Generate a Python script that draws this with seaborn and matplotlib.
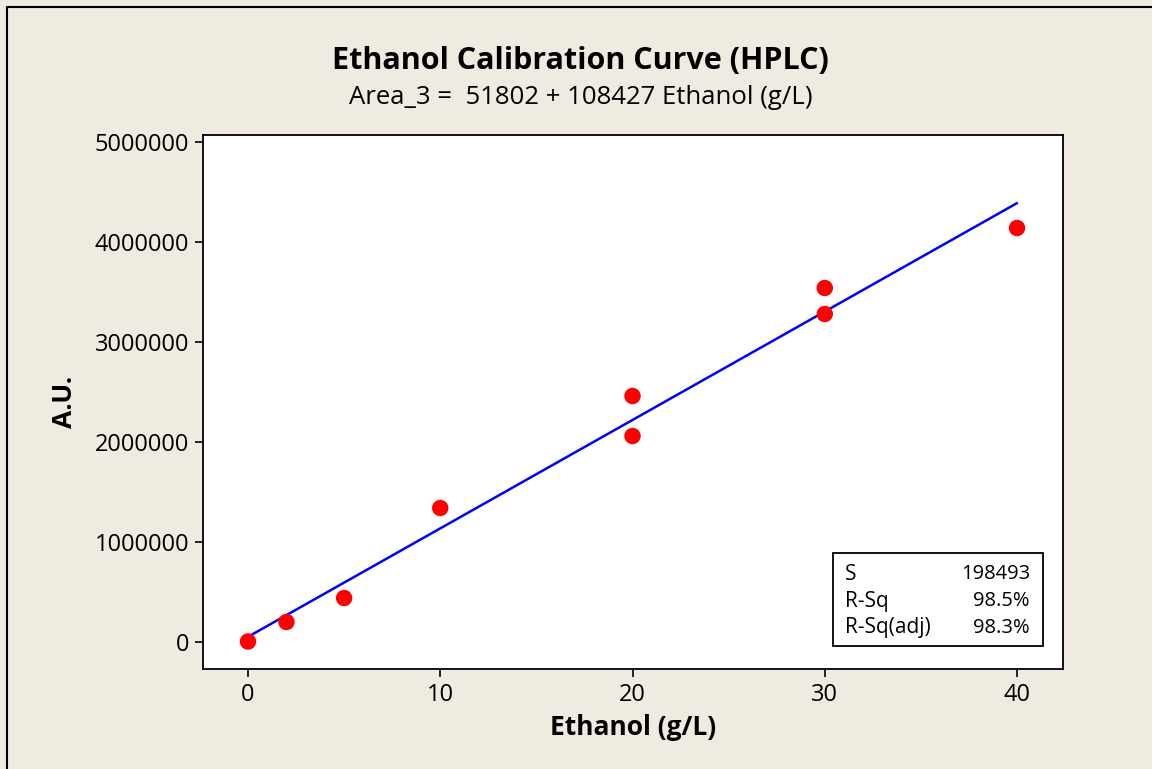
import pandas as pd
import seaborn as sns
import matplotlib.pyplot as plt
from matplotlib.patches import Rectangle
from matplotlib.lines import Line2D

# measured calibration points
ethanol = [0, 2, 5, 10, 20, 20, 30, 30, 40]
area = [5000, 200000, 440000, 1340000, 2460000, 2060000, 3540000, 3280000, 4140000]

# fitted line from the chart's equation
intercept = 51802
slope = 108427
stat_names = ["S", "R-Sq", "R-Sq(adj)"]
stat_values = ["198493", "98.5%", "98.3%"]

y_ticks = [0, 1000000, 2000000, 3000000, 4000000, 5000000]
x_ticks = [0, 10, 20, 30, 40]

df = pd.DataFrame({"Ethanol": ethanol, "Area": area})
fit_df = pd.DataFrame({"Ethanol": [min(ethanol), max(ethanol)]})
fit_df["Area"] = intercept + slope * fit_df["Ethanol"]

sns.set_style("white")
plt.rcParams['font.family'] = ['Open Sans', 'DejaVu Sans']
plt.rcParams['text.color'] = 'black'
plt.rcParams['axes.labelcolor'] = 'black'
plt.rcParams['xtick.color'] = 'black'
plt.rcParams['ytick.color'] = 'black'

W, H = 1152, 769
bg = '#EFEBE1'
fig = plt.figure(figsize=(W / 100, H / 100), dpi=100)
fig.patch.set_facecolor(bg)
fig.patch.set_edgecolor(bg)
fig.patch.set_linewidth(0)

# axes box in pixels: left 203, right 1063, top 135, bottom 669
ax = fig.add_axes([203 / W, 1 - 669 / H, (1063 - 203) / W, (669 - 135) / H])
ax.set_facecolor('white')

sns.lineplot(data=fit_df, x="Ethanol", y="Area", ax=ax, color='#0000FF', linewidth=1.8)
sns.scatterplot(data=df, x="Ethanol", y="Area", ax=ax, color='#FF0000', s=140, edgecolor='none', zorder=3)

ax.set_xlim(-2.34, 42.39)
ax.set_ylim(-270000, 5070000)
ax.set_xticks(x_ticks)
ax.set_yticks(y_ticks)
ax.set_xticklabels([str(t) for t in x_ticks])
ax.set_yticklabels([str(t) for t in y_ticks])
ax.tick_params(axis='both', direction='out', length=6, width=1.2, color='black',
               labelsize=17, pad=4, left=True, bottom=True, labelcolor='black')
for sp in ax.spines.values():
    sp.set_visible(True)
    sp.set_color('black')
    sp.set_linewidth(1.3)

ax.set_xlabel("Ethanol (g/L)", fontsize=19, fontweight='bold', labelpad=5)
ax.set_ylabel("A.U.", fontsize=19, fontweight='bold', labelpad=12)

fig.text(0.504, 1 - 61 / H, "Ethanol Calibration Curve (HPLC)", ha='center', va='center',
         fontsize=22, fontweight='bold')
fig.text(0.504, 1 - 97 / H, f"Area_3 =  {intercept} + {slope} Ethanol (g/L)", ha='center',
         va='center', fontsize=18.5)

# stats box
bx0, bx1, by0, by1 = 833, 1043, 553, 646
fig.patches.append(Rectangle((bx0 / W, 1 - by1 / H), (bx1 - bx0) / W, (by1 - by0) / H,
                             transform=fig.transFigure, facecolor='white', edgecolor='black',
                             linewidth=1.3, zorder=5))
for i, (n, v) in enumerate(zip(stat_names, stat_values)):
    yy = 1 - (574 + i * 27) / H
    fig.text(845 / W, yy, n, ha='left', va='center', fontsize=15, zorder=6)
    fig.text(1030 / W, yy, v, ha='right', va='center', fontsize=14.5, zorder=6)

# outer frame (top and left edges only, the rest falls outside the image)
fig.lines.append(Line2D([7 / W, 7 / W, 1.05], [-0.05, 1 - 7 / H, 1 - 7 / H], transform=fig.transFigure,
                        color='black', linewidth=1.5))

fig.savefig("out.png", dpi=100, facecolor=bg, edgecolor=bg)
